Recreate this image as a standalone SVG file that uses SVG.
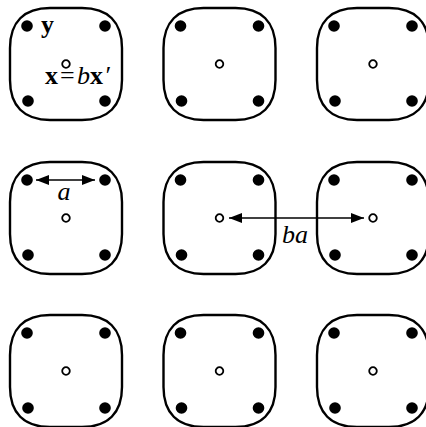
<svg xmlns="http://www.w3.org/2000/svg" xmlns:xlink="http://www.w3.org/1999/xlink" width="426" height="427" viewBox="0 0 426 427">
<style>
.box{fill:none;stroke:#000;stroke-width:2.4}
.dot{fill:#000}
.ctr{fill:#fff;stroke:#000;stroke-width:1.8}
.conn{stroke:#000;stroke-width:1.3;fill:none}
.t{font-family:"Liberation Serif","Times New Roman",serif;font-size:26px;fill:#000}
.b{font-weight:bold}
.i{font-style:italic}
</style>
<defs>
<g id="cell">
<path class="box" d="M -16,-56 H 16 C 42,-56 56,-42 56,-16 V 16 C 56,42 42,56 16,56 H -16 C -42,56 -56,42 -56,16 V -16 C -56,-42 -42,-56 -16,-56 Z"/>
<circle class="dot" cx="-39" cy="-38" r="5.8"/>
<circle class="dot" cx="39" cy="-38" r="5.8"/>
<circle class="dot" cx="-38" cy="37" r="5.8"/>
<circle class="dot" cx="39" cy="37" r="5.8"/>
<circle class="ctr" cx="0" cy="0" r="3.8"/>
</g>
<marker id="ah" viewBox="0 0 13 10" refX="13" refY="5" markerWidth="13" markerHeight="10" markerUnits="userSpaceOnUse" orient="auto-start-reverse">
<path d="M0,0 L13,5 L0,10 Z" fill="#000"/>
</marker>
</defs>
<g id="cell-r1c1" transform="translate(66,64)"><use xlink:href="#cell"/></g>
<g id="cell-r1c2" transform="translate(219.5,64)"><use xlink:href="#cell"/></g>
<g id="cell-r1c3" transform="translate(373,64)"><use xlink:href="#cell"/></g>
<g id="cell-r2c1" transform="translate(66,218)"><use xlink:href="#cell"/></g>
<g id="cell-r2c2" transform="translate(219.5,218)"><use xlink:href="#cell"/></g>
<g id="cell-r2c3" transform="translate(373,218)"><use xlink:href="#cell"/></g>
<g id="cell-r3c1" transform="translate(66,371)"><use xlink:href="#cell"/></g>
<g id="cell-r3c2" transform="translate(219.5,371)"><use xlink:href="#cell"/></g>
<g id="cell-r3c3" transform="translate(373,371)"><use xlink:href="#cell"/></g>
<g id="connectors">
<line class="conn" x1="36" y1="180" x2="95" y2="180" marker-start="url(#ah)" marker-end="url(#ah)"/>
<line class="conn" x1="229" y1="218" x2="364" y2="218" marker-start="url(#ah)" marker-end="url(#ah)"/>
</g>
<g id="labels">
<text class="t b" x="41" y="33">y</text>
<text class="t" y="84"><tspan class="b" x="45">x</tspan><tspan x="60">=</tspan><tspan class="i" x="77">b</tspan><tspan class="b" x="90">x</tspan><tspan class="i" x="104">′</tspan></text>
<text class="t i" x="64" y="200" text-anchor="middle">a</text>
<text class="t i" x="295" y="243" text-anchor="middle">ba</text>
</g>
</svg>
